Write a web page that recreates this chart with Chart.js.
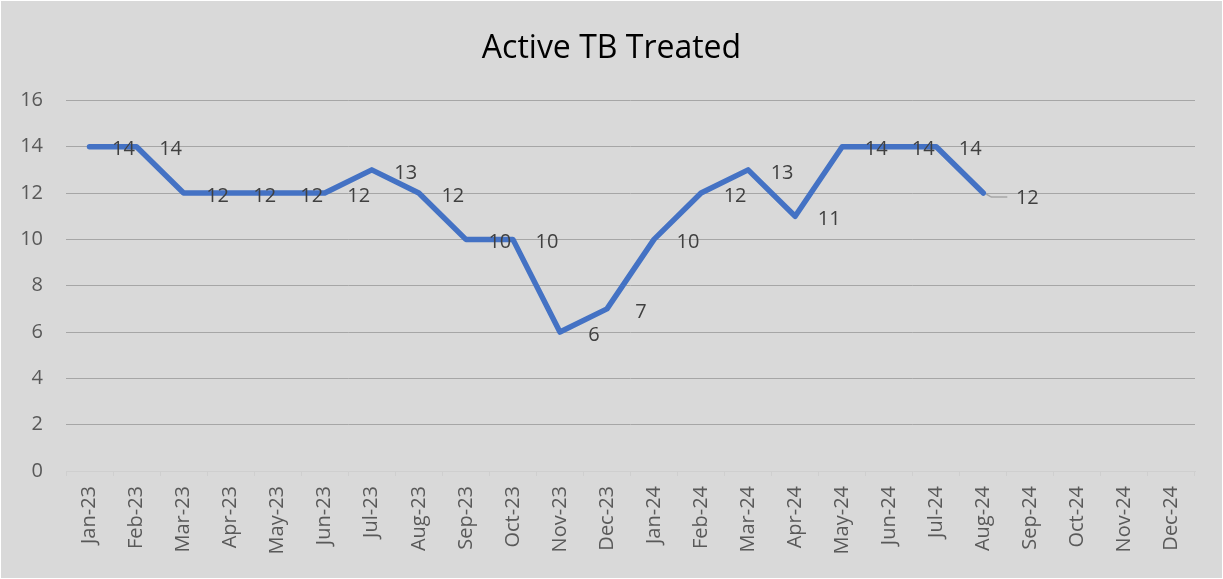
<!DOCTYPE html>
<html>
<head>
<meta charset="utf-8">
<script src="https://cdn.jsdelivr.net/npm/chart.js@4.4.1/dist/chart.umd.min.js"></script>
<style>
html,body{margin:0;padding:0;background:#ffffff;}
#wrap{position:absolute;left:0;top:0;width:1223px;height:579px;}
</style>
</head>
<body>
<div id="wrap"><canvas id="c" width="1223" height="579"></canvas></div>
<script>
const categories = ["Jan-23","Feb-23","Mar-23","Apr-23","May-23","Jun-23","Jul-23","Aug-23","Sep-23","Oct-23","Nov-23","Dec-23",
  "Jan-24","Feb-24","Mar-24","Apr-24","May-24","Jun-24","Jul-24","Aug-24","Sep-24","Oct-24","Nov-24","Dec-24"];
const activeTBTreated = [14,14,12,12,12,12,13,12,10,10,6,7,10,12,13,11,14,14,14,12];
const yTicks = [0,2,4,6,8,10,12,14,16];
const chartTitle = "Active TB Treated";

const bgPlugin = {
  id: 'bg',
  beforeDraw(chart) {
    const ctx = chart.ctx;
    ctx.save();
    ctx.fillStyle = '#ffffff';
    ctx.fillRect(0, 0, chart.width, chart.height);
    ctx.fillStyle = '#d9d9d9';
    ctx.fillRect(1, 1, chart.width - 2, chart.height - 2);
    ctx.restore();
  },
  afterLayout(chart) {
    // center the title over the whole chart width
    if (chart.titleBlock) {
      chart.titleBlock.left = 0;
      chart.titleBlock.right = chart.width;
      chart.titleBlock.width = chart.width;
    }
  }
};

const labelPlugin = {
  id: 'pointLabels',
  afterDatasetsDraw(chart) {
    const ctx = chart.ctx;
    const meta = chart.getDatasetMeta(0);
    const data = chart.data.datasets[0].data;
    ctx.save();
    ctx.font = '20px "Open Sans"';
    ctx.fillStyle = '#404040';
    ctx.textAlign = 'center';
    ctx.textBaseline = 'middle';
    meta.data.forEach((pt, i) => {
      const last = i === data.length - 1;
      if (last) {
        ctx.strokeStyle = '#a6a6a6';
        ctx.lineWidth = 1.5;
        ctx.beginPath();
        ctx.moveTo(pt.x + 3, pt.y + 1);
        ctx.lineTo(pt.x + 8, pt.y + 4);
        ctx.lineTo(pt.x + 24, pt.y + 4);
        ctx.stroke();
        ctx.fillText(String(data[i]), pt.x + 44, pt.y + 5);
      } else {
        ctx.fillText(String(data[i]), pt.x + 34, pt.y + 3);
      }
    });
    ctx.restore();
  }
};

new Chart(document.getElementById('c'), {
  type: 'line',
  data: {
    labels: categories,
    datasets: [{
      data: activeTBTreated,
      borderColor: '#4472c4',
      borderWidth: 5.5,
      borderCapStyle: 'round',
      borderJoinStyle: 'round',
      pointRadius: 0,
      tension: 0,
      fill: false
    }]
  },
  options: {
    responsive: false,
    animation: false,
    devicePixelRatio: 1,
    layout: { padding: { left: 0, right: 28, top: 0, bottom: 0 } },
    plugins: {
      legend: { display: false },
      tooltip: { enabled: false },
      title: {
        display: true,
        text: chartTitle,
        color: '#000000',
        font: { family: '"Open Sans"', size: 32, weight: 'normal' },
        padding: { top: 30, bottom: 32 }
      }
    },
    scales: {
      x: {
        offset: true,
        grid: {
          display: true,
          offset: true,
          drawOnChartArea: false,
          drawTicks: true,
          tickLength: 5,
          color: '#cfcfcf'
        },
        border: { display: true, color: '#cfcfcf' },
        ticks: {
          autoSkip: false,
          maxRotation: 90,
          minRotation: 90,
          padding: 10,
          color: '#595959',
          font: { family: '"Open Sans"', size: 20 }
        },
        afterFit(scale) { scale.height = 108; }
      },
      y: {
        min: 0,
        max: 16,
        afterBuildTicks(scale) { scale.ticks = yTicks.map(v => ({ value: v })); },
        grid: {
          drawTicks: false,
          color: ctx => ctx.tick && ctx.tick.value === 0 ? 'rgba(0,0,0,0)' : '#a6a6a6',
          lineWidth: 1
        },
        border: { display: false },
        ticks: {
          padding: 23,
          color: '#595959',
          font: { family: '"Open Sans"', size: 20 }
        },
        afterFit(scale) { scale.width = 66; }
      }
    }
  },
  plugins: [bgPlugin, labelPlugin]
});
</script>
</body>
</html>
